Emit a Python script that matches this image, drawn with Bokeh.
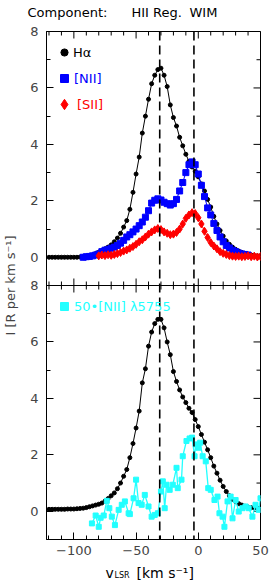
from math import pi
from bokeh.plotting import figure
from bokeh.layouts import column
from bokeh.models import Range1d, LinearAxis, FixedTicker, Span, Legend, LegendItem, Plot
from bokeh.core.properties import value
from bokeh.embed import file_html
from bokeh.resources import INLINE

# ---------------- data ----------------
# Top panel: H-alpha
ha_top_v = [-120, -117.5, -115, -112.5, -110, -107.5, -105, -102.5, -100, -97.5, -95, -92.5, -90, -87.5,
            -85, -82.5, -80, -77.5, -75, -72.5, -70, -67.5, -65, -62.5, -60, -57.5, -55, -52.5, -50,
            -47.5, -45, -42.5, -40, -37.5, -35, -32.5, -30, -27.5, -25, -22.5, -20, -17.5, -15, -12.5,
            -10, -7.5, -5, -2.5, 0, 2.5, 5, 7.5, 10, 12.5, 15, 17.5, 20, 22.5, 25, 27.5, 30, 32.5, 35,
            37.5, 40, 42.5, 45, 47.5, 50]
ha_top_i = [0.0, 0.0, 0.0, 0.0, 0.0, 0.0, 0.0, 0.0, 0.0, 0.0, 0.01, 0.02, 0.03, 0.05,
            0.08, 0.13, 0.18, 0.24, 0.30, 0.36, 0.44, 0.55, 0.68, 0.85, 1.07, 1.30, 1.70, 2.30, 2.95,
            3.55, 4.40, 5.00, 5.60, 6.15, 6.45, 6.65, 6.70, 6.45, 6.05, 5.40, 4.95, 4.65, 4.25, 3.95,
            3.65, 3.40, 3.20, 3.05, 2.85, 2.60, 2.35, 2.05, 1.78, 1.45, 1.18, 0.95, 0.75, 0.58, 0.46,
            0.36, 0.28, 0.22, 0.17, 0.13, 0.10, 0.08, 0.06, 0.05, 0.05]

# Top panel: [NII]
nii_v = [-92.5, -90, -87.5, -85, -82.5, -80, -77.5, -75, -72.5, -70, -67.5, -65, -62.5, -60, -57.5,
         -55, -52.5, -50, -47.5, -45, -42.5, -40, -37.5, -35, -32.5, -30, -27.5, -25, -22.5, -20,
         -17.5, -15, -12.5, -10, -7.5, -5, -2.5, 0, 2.5, 5, 7.5, 10, 12.5, 15, 17.5, 20, 22.5, 25,
         27.5, 30, 32.5, 35, 37.5, 40]
nii_i = [0.00, 0.02, 0.03, 0.05, 0.08, 0.12, 0.20, 0.25, 0.28, 0.32, 0.36, 0.42, 0.50, 0.60, 0.72,
         0.80, 0.90, 1.00, 1.12, 1.25, 1.42, 1.65, 1.92, 2.02, 2.07, 2.03, 1.95, 1.90, 1.85, 1.90,
         2.05, 2.35, 2.65, 3.00, 3.28, 3.38, 3.28, 2.95, 2.55, 2.15, 1.75, 1.50, 1.20, 0.95, 0.72,
         0.55, 0.42, 0.33, 0.25, 0.20, 0.15, 0.12, 0.10, 0.08]

# Top panel: [SII]
sii_v = [-80, -77.5, -75, -72.5, -70, -67.5, -65, -62.5, -60, -57.5, -55, -52.5, -50, -47.5, -45,
         -42.5, -40, -37.5, -35, -32.5, -30, -27.5, -25, -22.5, -20, -17.5, -15, -12.5, -10, -7.5,
         -5, -2.5, 0, 2.5, 5, 7.5, 10, 12.5, 15, 17.5, 20, 22.5, 25, 27.5, 30, 32.5, 35, 37.5, 40,
         42.5, 45, 47.5, 50]
sii_i = [0.05, 0.08, 0.06, 0.09, 0.07, 0.10, 0.13, 0.17, 0.22, 0.26, 0.32, 0.38, 0.46, 0.55, 0.62,
         0.72, 0.82, 0.90, 0.97, 1.02, 0.98, 0.90, 0.85, 0.80, 0.82, 0.88, 1.00, 1.18, 1.38, 1.50,
         1.58, 1.55, 1.40, 1.18, 0.92, 0.70, 0.52, 0.40, 0.30, 0.20, 0.14, 0.10, 0.06, 0.04, 0.03,
         0.04, 0.02, 0.03, 0.05, 0.02, 0.04, 0.01, 0.03]

# Bottom panel: H-alpha
ha_bot_v = ha_top_v
ha_bot_i = [0.07, 0.07, 0.07, 0.07, 0.07, 0.07, 0.08, 0.08, 0.08, 0.09, 0.10, 0.11, 0.13, 0.16,
            0.19, 0.22, 0.25, 0.29, 0.36, 0.45, 0.55, 0.65, 0.80, 1.00, 1.24, 1.48, 1.90, 2.40, 2.95,
            3.55, 4.55, 5.05, 5.85, 6.35, 6.65, 6.80, 6.80, 6.50, 6.00, 5.55, 4.95, 4.60, 4.30, 4.05,
            3.85, 3.65, 3.50, 3.25, 3.00, 2.72, 2.45, 2.18, 1.90, 1.60, 1.35, 1.10, 0.88, 0.70, 0.55,
            0.42, 0.34, 0.27, 0.22, 0.18, 0.15, 0.13, 0.12, 0.11, 0.10]

# Bottom panel: 50 x [NII] 5755
aur_v = [-85.5, -82.5, -80, -78.5, -76, -73.5, -71.5, -69.5, -67, -64, -61.5, -59, -56, -55, -52,
         -50, -48, -45.5, -43, -40, -37.5, -35, -32.5, -30, -28.5, -27, -25.5, -23, -20.5, -17.5,
         -16.5, -13.5, -12.5, -9.5, -7, -5, -3, -2, 0, 1.5, 3.5, 6, 8, 10, 13, 15.5, 17, 19.5, 21,
         23.5, 26, 27.5, 30, 32.5, 35.5, 38, 40.5, 43.5, 46, 48.5, 50]
aur_i = [-0.43, -0.15, -0.55, -0.23, -0.15, 0.37, 0.11, -0.19, -0.49, 0.05, 0.23, 0.35, -0.07, -0.10,
         0.46, 1.12, 0.29, 0.23, 0.58, 0.17, -0.19, -0.13, -0.07, 0.70, 1.06, 0.11, 0.94, 0.76, 0.94,
         1.54, 0.82, 1.12, 1.95, 2.49, 2.58, 2.61, 1.95, 2.37, 2.25, 2.43, 1.95, 1.77, 0.82, 0.76,
         0.40, 0.52, -0.07, -0.19, -0.55, 0.35, 0.52, -0.25, 0.40, -0.01, 0.11, 0.17, 0.11, -0.19,
         0.23, 0.05, 0.46]

# reference velocities (dashed lines)
comp_v = [-31, -3.5]

# ticks
X_MIN, X_MAX = -122, 50
x_major = [-100, -50, 0, 50]
x_minor = [-120, -110, -90, -80, -70, -60, -40, -30, -20, -10, 10, 20, 30, 40]
x_labels = {-100: "\u2212100", -50: "\u221250", 0: "0", 50: "50"}
Y_MIN, Y_TOP = -1, 17
SPLIT = 8  # boundary between the panels on the shared (bottom-panel) scale
y_major = [0, 2, 4, 6, 8, 9, 11, 13, 15, 17]
y_minor = [1, 3, 5, 7, 10, 12, 14, 16]
y_labels = {0: "0", 2: "2", 4: "4", 6: "6", 8: "8", 9: "0", 11: "2", 13: "4", 15: "6", 17: "8"}

FONT = "DejaVu Sans"
CYAN = "#22FFFF"
HAS_FRAME_ALIGN = "frame_align" in Plot.properties()


def strip(height):
    s = figure(width=270, height=height, output_backend="svg", toolbar_location=None,
               x_range=Range1d(0, 270), y_range=Range1d(0, height),
               x_axis_location=None, y_axis_location=None, title=None,
               min_border_left=0, min_border_right=0, min_border_top=0, min_border_bottom=0)
    s.grid.visible = False
    s.outline_line_color = None
    if HAS_FRAME_ALIGN:
        s.frame_align = False
    return s


# ---------------- title strip ----------------
ts = strip(20)
ts.text(x=[27, 131, 189], y=[8, 8, 8], text=["Component:", "HII Reg.", "WIM"],
        text_font=value(FONT), text_font_size="13px", text_baseline="alphabetic",
        text_color="black")

# ---------------- main figure ----------------
p = figure(width=270, height=541, output_backend="svg", toolbar_location=None, title=None,
           x_range=Range1d(X_MIN, X_MAX), y_range=Range1d(Y_MIN, Y_TOP),
           x_axis_location=None, y_axis_location=None,
           min_border_left=44, min_border_right=10, min_border_top=11, min_border_bottom=22)
if HAS_FRAME_ALIGN:
    p.frame_align = False
p.extra_y_ranges = {"top": Range1d(-10, 8)}
p.grid.visible = False
p.outline_line_color = "black"
p.outline_line_width = 1

xax = LinearAxis(ticker=FixedTicker(ticks=x_major, minor_ticks=x_minor),
                 major_label_overrides=x_labels,
                 major_tick_in=7, major_tick_out=0, minor_tick_in=4, minor_tick_out=0,
                 major_label_text_font=FONT, major_label_text_font_size="13px",
                 major_label_standoff=6)
p.add_layout(xax, "below")

yax = LinearAxis(ticker=FixedTicker(ticks=y_major, minor_ticks=y_minor),
                 major_label_overrides=y_labels,
                 major_tick_in=7, major_tick_out=0, minor_tick_in=4, minor_tick_out=0,
                 major_label_text_font=FONT, major_label_text_font_size="13px",
                 major_label_standoff=8,
                 axis_label="I [R per km s\u207b\u00b9]", axis_label_text_font=FONT,
                 axis_label_text_font_size="13px", axis_label_text_font_style="normal",
                 axis_label_standoff=9)
p.add_layout(yax, "left")

# ticks on the top and right edges and on the boundary between the panels
p.scatter(x=x_major, y=[Y_TOP] * len(x_major), marker="dash", angle=pi / 2, size=14,
          line_color="black", line_width=1)
p.scatter(x=x_minor, y=[Y_TOP] * len(x_minor), marker="dash", angle=pi / 2, size=8,
          line_color="black", line_width=1)
p.scatter(x=[X_MAX] * len(y_major), y=y_major, marker="dash", size=14,
          line_color="black", line_width=1)
p.scatter(x=[X_MAX] * len(y_minor), y=y_minor, marker="dash", size=8,
          line_color="black", line_width=1)
p.add_layout(Span(location=SPLIT, dimension="width", line_color="black", line_width=1))
p.scatter(x=x_major, y=[SPLIT] * len(x_major), marker="dash", angle=pi / 2, size=14,
          line_color="black", line_width=1)
p.scatter(x=x_minor, y=[SPLIT] * len(x_minor), marker="dash", angle=pi / 2, size=8,
          line_color="black", line_width=1)

# dashed component lines
for v in comp_v:
    p.add_layout(Span(location=v, dimension="height", line_color="black",
                      line_width=1.6, line_dash="9 5"))

# top panel
p.line(ha_top_v, ha_top_i, y_range_name="top", line_color="black", line_width=1)
r_ha = p.scatter(ha_top_v, ha_top_i, y_range_name="top", marker="circle", size=4, color="black")
p.line(nii_v, nii_i, y_range_name="top", line_color="blue", line_width=1)
r_nii = p.scatter(nii_v, nii_i, y_range_name="top", marker="square", size=6, color="blue")
p.line(sii_v, sii_i, y_range_name="top", line_color="red", line_width=1)
r_sii = p.scatter(sii_v, sii_i, y_range_name="top", marker="diamond", size=8, color="red")

# bottom panel
p.line(ha_bot_v, ha_bot_i, line_color="black", line_width=1)
p.scatter(ha_bot_v, ha_bot_i, marker="circle", size=4, color="black")
p.line(aur_v, aur_i, line_color=CYAN, line_width=1.3)
r_aur = p.scatter(aur_v, aur_i, marker="square", size=5, color=CYAN)

# legends (one per entry so each text has its own colour)
FRAME_LEFT_PAGE = 44
FRAME_BOTTOM_PAGE = 539


def add_legend(renderer, text, color, cx, cy, g):
    leg = Legend(items=[LegendItem(label=text, renderers=[renderer])],
                 location=(cx - g / 2 - FRAME_LEFT_PAGE, FRAME_BOTTOM_PAGE - (cy + g / 2)),
                 glyph_width=g, glyph_height=g, label_height=g, label_width=10,
                 label_standoff=0, padding=0, margin=0, spacing=0,
                 border_line_alpha=0, background_fill_alpha=0,
                 label_text_color=color, label_text_font=FONT, label_text_font_size="13px")
    p.add_layout(leg)


add_legend(r_ha, "H\u03b1", "black", 62, 52, 18)
add_legend(r_nii, "[NII]", "blue", 62, 78, 20)
add_legend(r_sii, "[SII]", "red", 62, 104, 26)
add_legend(r_aur, "50\u2022[NII] \u03bb5755", CYAN, 62, 306, 20)

# ---------------- x-axis title strip: v_LSR [km s^-1] ----------------
xl = strip(20)
xl.text(x=[105, 136], y=[9, 9], text=["v", "[km s\u207b\u00b9]"], text_font=value(FONT),
        text_font_size="14px", text_baseline="alphabetic", text_color="black")
xl.text(x=[114], y=[6], text=["LSR"], text_font=value(FONT), text_font_size="8px",
        text_baseline="alphabetic", text_color="black")

layout = column(ts, p, xl, spacing=0)
open("out.html", "w").write(file_html(layout, INLINE))
